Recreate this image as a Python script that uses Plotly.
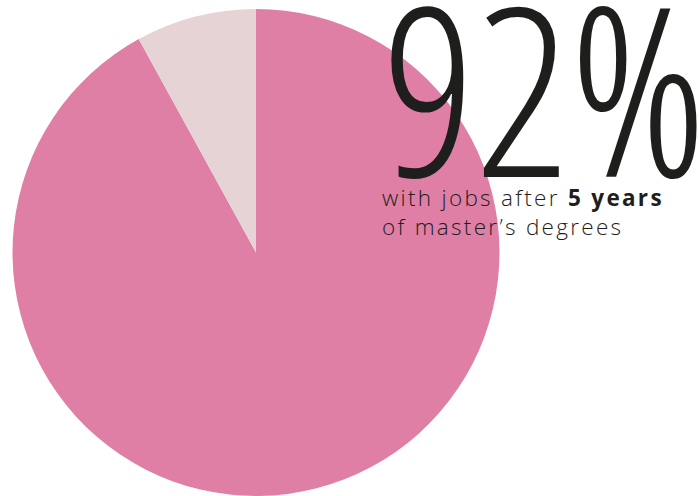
import plotly.graph_objects as go

labels = ["With jobs", "Without jobs"]
values = [92, 8]
colors = ["#E07FA5", "#E5D3D6"]
big_label = "92%"
sub_line1 = "with jobs after <b>5 years</b>"
sub_line2 = "of master\u2019s degrees"

W, H = 699, 496
TXT = "#1e1e1c"
fig = go.Figure()
fig.add_trace(go.Pie(
    labels=labels, values=values, sort=False, direction="clockwise", rotation=0,
    marker=dict(colors=colors, line=dict(width=0)), textinfo="none", hoverinfo="label+percent",
    domain=dict(x=[12.5 / W, 499.5 / W], y=[0, 487 / H]), showlegend=False,
))
fig.add_annotation(
    text=big_label, xref="paper", yref="paper", x=380 / W, y=1 + 75 / H,
    xanchor="left", yanchor="top", showarrow=False,
    font=dict(family="Open Sans Condensed Light", size=234, color=TXT),
)
fig.add_annotation(
    text=sub_line1 + "<br>" + sub_line2, xref="paper", yref="paper", x=380 / W, y=1 - 180 / H,
    xanchor="left", yanchor="top", showarrow=False, align="left",
    font=dict(family="Open Sans", size=22.5, color=TXT, weight=300),
)
fig.update_layout(width=W, height=H, margin=dict(l=0, r=0, t=0, b=0),
                  paper_bgcolor="white", plot_bgcolor="white")
post = """
document.body.style.margin='0';
var anns = document.querySelectorAll('.annotation-text');
if (anns.length > 1) { anns[1].style.letterSpacing = '2.3px'; }
"""
fig.write_html("out.html", config={"displayModeBar": False}, post_script=post)
